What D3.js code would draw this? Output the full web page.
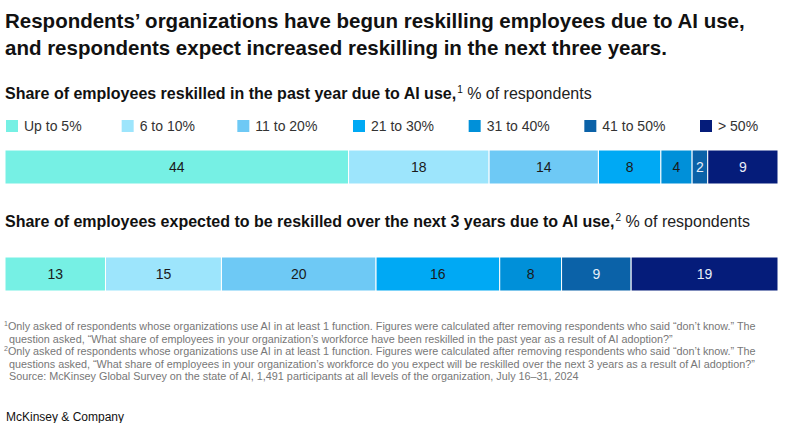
<!DOCTYPE html>
<html>
<head>
<meta charset="utf-8">
<script src="https://cdn.jsdelivr.net/npm/d3@7"></script>
<style>
  body { margin: 0; background: #fff; }
  svg { display: block; font-family: "Liberation Sans", Arial, sans-serif; }
</style>
</head>
<body>
<svg id="chart" width="791" height="423"></svg>
<script>
// Categories (shared by both bars)
const categories = ['Up to 5%', '6 to 10%', '11 to 20%', '21 to 30%', '31 to 40%', '41 to 50%', '> 50%'];
const colors = ['#76f0e4', '#9de5fc', '#6ec9f5', '#00a9f4', '#0090d9', '#0b62a8', '#051c7a'];
const lightText = ['41 to 50%', '> 50%'];

// Series values, % of respondents
const pastYear = [44, 18, 14, 8, 4, 2, 9];
const nextThreeYears = [13, 15, 20, 16, 8, 9, 19];

const footnotes = [
    { sup: '1', text: 'Only asked of respondents whose organizations use AI in at least 1 function. Figures were calculated after removing respondents who said \u201cdon\u2019t know.\u201d The' },
    { sup: '', text: 'question asked, \u201cWhat share of employees in your organization\u2019s workforce have been reskilled in the past year as a result of AI adoption?\u201d', indent: true },
    { sup: '2', text: 'Only asked of respondents whose organizations use AI in at least 1 function. Figures were calculated after removing respondents who said \u201cdon\u2019t know.\u201d The' },
    { sup: '', text: 'questions asked, \u201cWhat share of employees in your organization\u2019s workforce do you expect will be reskilled over the next 3 years as a result of AI adoption?\u201d', indent: true },
    { sup: '', text: 'Source: McKinsey Global Survey on the state of AI, 1,491 participants at all levels of the organization, July 16\u201331, 2024', indent: true }
];

const svg = d3.select('#chart');
const left = 5, right = 778;

// Title
const title = svg.append('text')
    .attr('x', left)
    .attr('font-size', 20.5)
    .attr('font-weight', 'bold')
    .attr('fill', '#111');
title.append('tspan').attr('x', left).attr('y', 28)
    .text('Respondents\u2019 organizations have begun reskilling employees due to AI use,');
title.append('tspan').attr('x', left).attr('y', 55)
    .text('and respondents expect increased reskilling in the next three years.');

function subtitle(y, bold, sup) {
    const t = svg.append('text').attr('x', left).attr('y', y).attr('font-size', 16).attr('fill', '#111');
    t.append('tspan').attr('font-weight', 'bold').text(bold);
    t.append('tspan').attr('font-size', 10).attr('dy', -6).attr('dx', 1).text(sup);
    t.append('tspan').attr('dy', 6).attr('fill', '#222').text(' % of respondents');
}

subtitle(99, 'Share of employees reskilled in the past year due to AI use,', '1');
subtitle(227, 'Share of employees expected to be reskilled over the next 3 years due to AI use,', '2');

// Legend
const legendX = d3.scalePoint().domain(categories).range([6, 700]);
const legend = svg.append('g').attr('transform', 'translate(0,120)')
    .selectAll('g')
    .data(categories)
    .join('g')
    .attr('transform', d => `translate(${legendX(d)},0)`);
legend.append('rect')
    .attr('width', 12).attr('height', 12)
    .attr('fill', (d, i) => colors[i]);
legend.append('text')
    .attr('x', 18).attr('y', 11)
    .attr('font-size', 14)
    .attr('fill', '#333')
    .text(d => d);

// Stacked bar
function drawBar(values, y, h) {
    const total = d3.sum(values);
    const x = d3.scaleLinear().domain([0, total]).range([left, right]);
    const rows = values.map((v, i) => ({
        cat: categories[i],
        value: v,
        start: d3.sum(values.slice(0, i)),
        color: colors[i]
    }));
    const g = svg.append('g');
    g.selectAll('rect')
        .data(rows)
        .join('rect')
        .attr('x', d => x(d.start))
        .attr('y', y)
        .attr('width', d => x(d.start + d.value) - x(d.start))
        .attr('height', h)
        .attr('fill', d => d.color)
        .attr('stroke', '#fff')
        .attr('stroke-width', 1);
    g.selectAll('text')
        .data(rows)
        .join('text')
        .attr('x', d => x(d.start + d.value / 2))
        .attr('y', y + h / 2 + 5)
        .attr('text-anchor', 'middle')
        .attr('font-size', 14)
        .attr('fill', d => lightText.includes(d.cat) ? '#e8eef8' : '#1a1a1a')
        .text(d => d.value);
}

drawBar(pastYear, 150, 34);
drawBar(nextThreeYears, 257, 34);

// Footnotes
const notes = svg.append('g').attr('font-size', 10.8).attr('fill', '#777');
footnotes.forEach((f, i) => {
    const t = notes.append('text').attr('x', f.indent ? 9 : 4).attr('y', 330 + i * 12.6);
    if (f.sup) t.append('tspan').attr('font-size', 7).attr('dy', -4).text(f.sup);
    t.append('tspan').attr('dy', f.sup ? 4 : 0).text(f.text);
});

svg.append('text')
    .attr('x', 6).attr('y', 421)
    .attr('font-size', 12)
    .attr('fill', '#111')
    .text('McKinsey & Company');
</script>
</body>
</html>
